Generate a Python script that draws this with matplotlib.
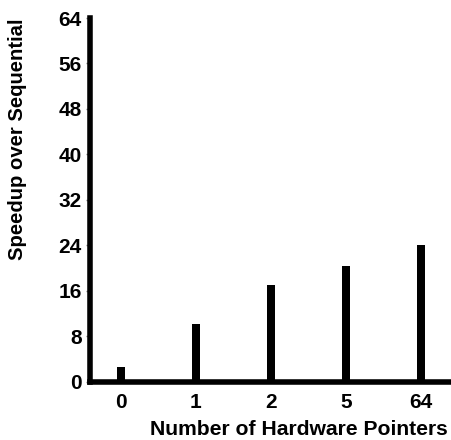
import matplotlib
matplotlib.use("Agg")
import matplotlib.pyplot as plt

categories = ["0", "1", "2", "5", "64"]
speedup = [2.6, 10.2, 17.0, 20.4, 24.0]
yticks = [0, 8, 16, 24, 32, 40, 48, 56, 64]

plt.rcParams['font.family'] = ['Liberation Sans', 'DejaVu Sans']
plt.rcParams['font.weight'] = 'bold'

fig = plt.figure(figsize=(4.52, 4.4), dpi=100)
ax = fig.add_axes([0.199, 0.1325, 0.801, 0.8265])
x = list(range(len(categories)))
ax.bar(x, speedup, width=0.11, color='black')
ax.set_xlim(-0.413, 4.413)
ax.set_ylim(0, 64)
ax.set_yticks(yticks)
ax.set_xticks(x)
ax.set_xticklabels(categories)
for s in ['top', 'right']:
    ax.spines[s].set_visible(False)
for s in ['left', 'bottom']:
    ax.spines[s].set_linewidth(4)
ax.tick_params(axis='y', length=3, width=1, color='gray', labelsize=15, pad=3)
ax.tick_params(axis='x', length=0, labelsize=15, pad=8)
ax.set_xlabel("Number of Hardware Pointers", fontsize=15.2, fontweight='bold')
ax.set_ylabel("Speedup over Sequential", fontsize=14.6, fontweight='bold')
ax.xaxis.label.set_ha('right')
ax.xaxis.label.set_va('top')
ax.xaxis.set_label_coords(0.989, -0.105)
ax.yaxis.label.set_ha('right')
ax.yaxis.set_label_coords(-0.174, 1.0)
fig.savefig("out.png", dpi=100)
